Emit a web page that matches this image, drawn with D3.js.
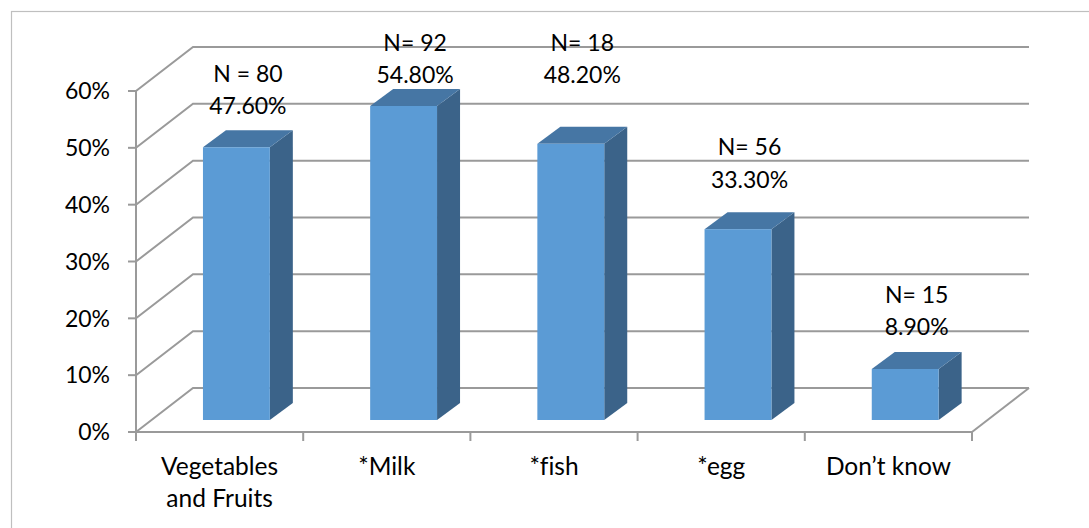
<!DOCTYPE html>
<html>
<head>
<meta charset="utf-8">
<script src="https://cdn.jsdelivr.net/npm/d3@7"></script>
<style>
  html, body { margin: 0; padding: 0; background: #fff; }
  svg { display: block; }
  text { font-family: Lato, "Noto Sans", sans-serif; fill: #000; font-variant-ligatures: none; font-feature-settings: "liga" 0; }
</style>
</head>
<body>
<svg id="chart" width="1089" height="528"></svg>
<script>
// ---- data ----
const categories = ["Vegetables and Fruits", "*Milk", "*fish", "*egg", "Don\u2019t know"];
const values = [0.476, 0.548, 0.482, 0.333, 0.089];
const counts = ["N = 80", "N= 92", "N= 18", "N= 56", "N= 15"];
const valueLabels = ["47.60%", "54.80%", "48.20%", "33.30%", "8.90%"];
const yTicks = [0, 0.1, 0.2, 0.3, 0.4, 0.5, 0.6];
// level (in axis units) where each label's second line sits
const labelLevels = [0.534, 0.588, 0.588, 0.405, 0.148];

// ---- layout ----
const svg = d3.select("#chart");
const X0 = 136, X1 = 972, YF = 432, YT = 91;
const DX = 57, DY = -44;          // wall depth
const BOX = 16.8, BOY = -12;      // bar front plane offset
const BDX = 23, BDY = -17;        // bar depth
const grid = "#9a9a9a";

svg.append("rect").attr("x", 11.5).attr("y", 11.5).attr("width", 1100).attr("height", 540)
  .attr("fill", "#fff").attr("stroke", "#bfbfbf").attr("stroke-width", 1.2);

const y = d3.scaleLinear().domain([0, 0.6]).range([YF, YT]);
const yBar = d3.scaleLinear().domain([0, 0.6]).range([YF + BOY, YF + BOY - 6 * 57.3]);
const x = d3.scaleBand().domain(categories).range([X0, X1]).paddingInner(0.6).paddingOuter(0.3);
const xEdge = d3.scaleLinear().domain([0, categories.length]).range([X0, X1]);

// walls / gridlines
const g = svg.append("g").attr("fill", "none").attr("stroke", grid).attr("stroke-width", 2);
yTicks.forEach(t => {
  g.append("path").attr("d", `M${X0},${y(t)} L${X0 + DX},${y(t) + DY} L${X1 + DX},${y(t) + DY}`);
});
// floor right edge
g.append("path").attr("d", `M${X1},${YF} L${X1 + DX},${YF + DY}`);
// front axes
g.append("path").attr("d", `M${X0},${y(0.6)} L${X0},${YF} L${X1},${YF}`);
// y ticks
yTicks.forEach(t => g.append("path").attr("d", `M${X0 - 8},${y(t)} L${X0},${y(t)}`));
// x ticks
d3.range(categories.length + 1).forEach(i =>
  g.append("path").attr("d", `M${xEdge(i)},${YF} L${xEdge(i)},${YF + 9}`));

// y labels
svg.append("g").selectAll("text").data(yTicks).join("text")
  .attr("x", 110).attr("y", d => y(d)).attr("dy", "0.36em")
  .attr("text-anchor", "end").attr("font-size", 23)
  .text(d => d3.format(".0%")(d));

// bars
const bars = svg.append("g");
categories.forEach((c, i) => {
  const v = values[i];
  const xl = x(c) + BOX, xr = xl + x.bandwidth();
  const yb = YF + BOY, yt = yBar(v);
  const bg = bars.append("g");
  bg.append("path").attr("fill", "#3b6389")
    .attr("d", `M${xr},${yb} L${xr + BDX},${yb + BDY} L${xr + BDX},${yt + BDY} L${xr},${yt} Z`);
  bg.append("path").attr("fill", "#4676a4")
    .attr("d", `M${xl},${yt} L${xl + BDX},${yt + BDY} L${xr + BDX},${yt + BDY} L${xr},${yt} Z`);
  bg.append("rect").attr("fill", "#5b9bd5")
    .attr("x", xl).attr("y", yt).attr("width", xr - xl).attr("height", yb - yt);
});

// data labels
const lab = svg.append("g").attr("text-anchor", "middle").attr("font-size", 23);
categories.forEach((c, i) => {
  const cx = x(c) + BOX + x.bandwidth() / 2 + BDX / 2;
  const by = yBar(labelLevels[i]);
  lab.append("text").attr("x", cx).attr("y", by - 32.5).text(counts[i]);
  lab.append("text").attr("x", cx).attr("y", by).text(valueLabels[i]);
});

// category labels
const cl = svg.append("g").attr("text-anchor", "middle").attr("font-size", 24.5);
const wraps = { "Vegetables and Fruits": ["Vegetables", "and Fruits"] };
categories.forEach(c => {
  const lines = wraps[c] || [c];
  const t = cl.append("text").attr("x", x(c) + x.bandwidth() / 2).attr("y", 475);
  lines.forEach((l, k) => t.append("tspan").attr("x", x(c) + x.bandwidth() / 2)
    .attr("dy", k === 0 ? 0 : 32).text(l));
});
</script>
</body>
</html>
